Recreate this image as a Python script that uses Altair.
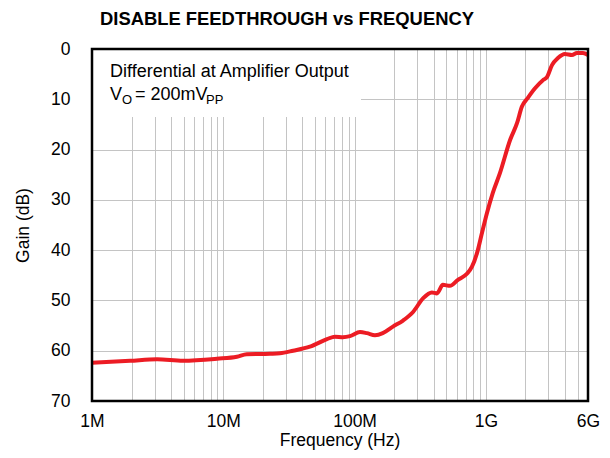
import altair as alt
import pandas as pd

# Curve (frequency in Hz, gain in dB)
FREQ_HZ = [1.0e6, 1.95e6, 3.13e6, 4.93e6, 8.95e6, 12.7e6, 15.1e6, 22.7e6, 27.0e6,
           34.0e6, 45.7e6, 61.6e6, 71.0e6, 81.6e6, 92.2e6, 110e6, 124e6, 143e6,
           164e6, 196e6, 234e6, 279e6, 332e6, 388e6, 424e6, 471e6, 533e6, 613e6,
           718e6, 784e6, 856e6, 934e6, 1.02e9, 1.13e9, 1.28e9, 1.53e9, 1.73e9,
           1.88e9, 2.09e9, 2.37e9, 2.72e9, 2.92e9, 3.19e9, 3.54e9, 4.00e9, 4.53e9,
           4.94e9, 5.49e9, 6.0e9]
GAIN_DB = [62.4, 62.0, 61.7, 62.0, 61.6, 61.2, 60.7, 60.6, 60.5,
           60.0, 59.2, 57.7, 57.2, 57.3, 57.1, 56.3, 56.5, 56.9,
           56.5, 55.2, 54.0, 52.3, 49.6, 48.4, 48.6, 46.9, 47.1, 45.9,
           44.7, 43.3, 40.6, 36.6, 32.6, 28.6, 24.7, 18.1, 14.7,
           11.5, 9.7, 7.8, 6.2, 5.6, 3.2, 1.8, 1.0, 1.2,
           0.8, 0.8, 1.2]

X_TICK_VALUES = [1000000, 10000000, 100000000, 1000000000, 6000000000]
X_TICK_LABELS = ["1M", "10M", "100M", "1G", "6G"]
Y_TICK_VALUES = [0, 10, 20, 30, 40, 50, 60, 70]

TITLE = "DISABLE FEEDTHROUGH vs FREQUENCY"
X_TITLE = "Frequency (Hz)"
Y_TITLE = "Gain (dB)"
NOTE_LINE1 = "Differential at Amplifier Output"

FONT = "Liberation Sans"
W, H = 496, 352

# minor log grid positions (axis configuration, not data)
grid_vals = []
for d in range(6, 10):
    for k in range(1, 10):
        v = k * 10 ** d
        if v <= 6000000000:
            grid_vals.append(v)

label_expr = ""
for v, t in zip(X_TICK_VALUES, X_TICK_LABELS):
    label_expr += f"datum.value == {v} ? '{t}' : "
label_expr += "''"

df = pd.DataFrame({"freq": FREQ_HZ, "gain": GAIN_DB})
one = pd.DataFrame({"k": [0]})

x_scale = alt.Scale(type="log", domain=[1e6, 6e9], nice=False)
y_scale = alt.Scale(domain=[0, 70], reverse=True, nice=False)

x_axis = alt.Axis(values=grid_vals, labelExpr=label_expr, grid=True, gridColor="#c4c4c4",
                  gridWidth=1, ticks=False, tickSize=0, domain=False, labelPadding=11,
                  labelFontSize=17.5, labelFont=FONT, labelColor="black", labelFlush=False,
                  labelOverlap=False, title=None)
y_axis = alt.Axis(values=Y_TICK_VALUES, grid=True, gridColor="#c4c4c4", gridWidth=1,
                  ticks=False, tickSize=0, domain=False, labelPadding=22,
                  labelFontSize=17.5, labelFont=FONT, labelColor="black",
                  labelFlush=False, labelOverlap=False, title=Y_TITLE,
                  titleFont=FONT, titleFontSize=17.5, titleFontWeight="normal",
                  titleColor="black", titlePadding=18)

line = alt.Chart(df).mark_line(color="#ec1c24", strokeWidth=4, interpolate="monotone").encode(
    x=alt.X("freq:Q", scale=x_scale, axis=x_axis),
    y=alt.Y("gain:Q", scale=y_scale, axis=y_axis),
)

box = alt.Chart(one).mark_rect(fill="white").encode(
    x=alt.value(0), x2=alt.value(269), y=alt.value(0), y2=alt.value(68)
)


def label(text, x, y, size, weight="normal", align="left"):
    return alt.Chart(one).mark_text(text=text, font=FONT, fontSize=size, fontWeight=weight,
                                    align=align, baseline="alphabetic", color="black").encode(
        x=alt.value(x), y=alt.value(y))


note1 = label(NOTE_LINE1, 18, 28, 18)
v_main = label("V", 18, 51, 18)
v_sub = label("O", 30, 55, 13)
v_eq = label("= 200mV", 43, 51, 18)
pp_sub = label("PP", 114, 55, 13)
title = label(TITLE, 195, -24, 18.4, weight="bold", align="center")
xtitle = label(X_TITLE, W / 2, 397, 17.5, align="center")

frame = alt.Chart(one).mark_rect(filled=False, stroke="black", strokeWidth=2.5).encode(
    x=alt.value(0), x2=alt.value(W), y=alt.value(0), y2=alt.value(H)
)

chart = alt.layer(box, line, note1, v_main, v_sub, v_eq, pp_sub, title, xtitle, frame).properties(
    width=W, height=H,
    autosize=alt.AutoSizeParams(type="none"),
    padding={"left": 84, "top": 41, "right": 14, "bottom": 49},
).configure_view(stroke=None).configure(background="white")

chart.save("out.html", embed_options={"renderer": "svg", "actions": False})
